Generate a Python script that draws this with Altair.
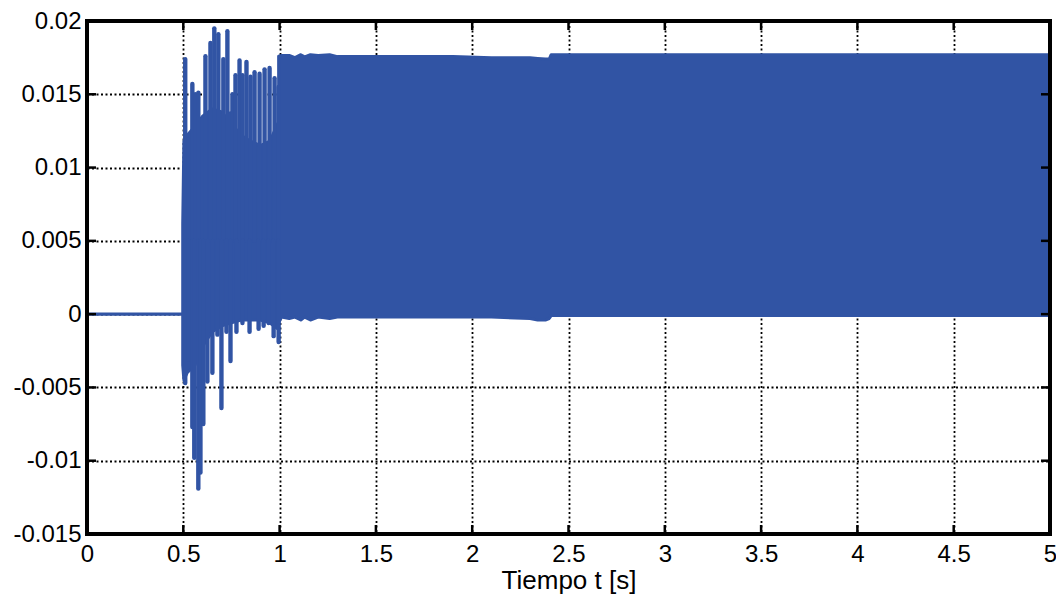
import altair as alt
import pandas as pd

BLUE = "#3154a4"
FONT = "Liberation Sans"

x_ticks = [0, 0.5, 1, 1.5, 2, 2.5, 3, 3.5, 4, 4.5, 5]
y_ticks = [-0.015, -0.01, -0.005, 0, 0.005, 0.01, 0.015, 0.02]

# before the event: flat at zero
rest_t = [0.0, 0.497]
rest_v = [0.0, 0.0]

# transient (0.5 s - 1 s): dense core envelope
core_t = [0.497, 0.503, 0.52, 0.56, 0.60, 0.65, 0.70, 0.75, 0.80, 0.85, 0.90, 0.95, 0.99]
core_hi = [0.0062, 0.0118, 0.0122, 0.0128, 0.0135, 0.0140, 0.0138, 0.0130, 0.0122, 0.0118, 0.0115, 0.0118, 0.0130]
core_lo = [-0.0035, -0.0045, -0.0040, -0.0035, -0.0022, -0.0012, -0.0008, -0.0006, -0.0004, -0.0004, -0.0004, -0.0006, -0.0010]

# transient peaks (upper)
spike_hi_t = [0.510, 0.526, 0.547, 0.562, 0.578, 0.599, 0.615, 0.641, 0.661, 0.682, 0.708, 0.729,
              0.745, 0.755, 0.771, 0.792, 0.807, 0.828, 0.849, 0.870, 0.896, 0.922, 0.948, 0.974, 0.995]
spike_hi_v = [0.0174, 0.0119, 0.0157, 0.0150, 0.0151, 0.0133, 0.0176, 0.0185, 0.0195, 0.0191, 0.0174, 0.0193,
              0.0137, 0.0150, 0.0163, 0.0173, 0.0163, 0.0172, 0.0162, 0.0165, 0.0164, 0.0167, 0.0168, 0.0161, 0.0155]

# transient troughs (lower)
spike_lo_t = [0.510, 0.526, 0.547, 0.557, 0.578, 0.589, 0.604, 0.625, 0.651, 0.677, 0.698,
              0.724, 0.745, 0.776, 0.807, 0.844, 0.891, 0.917, 0.943, 0.969, 0.995]
spike_lo_v = [-0.0047, -0.0031, -0.0077, -0.0098, -0.0119, -0.0108, -0.0075, -0.0046, -0.0040, -0.0014, -0.0064,
              -0.0012, -0.0032, -0.0012, -0.0006, -0.0012, -0.0010, -0.0008, -0.0006, -0.0015, -0.0019]

# steady oscillation band (t >= 1 s): envelope
steady_t = [0.995, 1.01, 1.05, 1.08, 1.11, 1.13, 1.16, 1.20, 1.26, 1.30, 1.35, 1.60, 1.90, 2.10, 2.30,
            2.34, 2.38, 2.40, 2.41, 3.00, 4.00, 5.00]
steady_hi = [0.0176, 0.01765, 0.01765, 0.0175, 0.0177, 0.01755, 0.0177, 0.01765, 0.0177, 0.01757, 0.01757,
             0.01757, 0.01757, 0.0175, 0.0175, 0.01745, 0.0174, 0.0174, 0.0177, 0.0177, 0.0177, 0.0177]
steady_lo = [-0.0006, -0.0002, -0.0003, -0.0002, -0.0004, -0.0002, -0.0004, -0.0002, -0.0003, -0.0002, -0.0002,
             -0.0002, -0.0002, -0.0002, -0.0003, -0.0004, -0.0004, -0.0003, -0.0001, -0.0001, -0.0001, -0.0001]

X_DOM = [0, 5]
Y_DOM = [-0.015, 0.02]

xs = alt.Scale(domain=X_DOM, nice=False, zero=False)
ys = alt.Scale(domain=Y_DOM, nice=False, zero=False)

x_axis = alt.Axis(values=x_ticks, labelExpr="'' + datum.value", title="Tiempo t [s]",
                  grid=True, domain=False, ticks=False, labelPadding=8, titlePadding=1,
                  labelFontSize=24, titleFontSize=26, labelFont=FONT, titleFont=FONT,
                  labelColor="black", titleColor="black", titleFontWeight="normal",
                  gridColor="black", gridDash=[2, 2.5], gridWidth=1.8, gridOpacity=1,
                  labelFlush=False, labelOverlap=False)
y_axis = alt.Axis(values=y_ticks, labelExpr="'' + datum.value", title=None,
                  grid=True, domain=False, ticks=False, labelPadding=6,
                  labelFontSize=24, labelFont=FONT, labelColor="black",
                  gridColor="black", gridDash=[2, 2.5], gridWidth=1.8, gridOpacity=1,
                  labelFlush=False, labelOverlap=False)

rest_df = pd.DataFrame({"t": rest_t, "v": rest_v})
core_df = pd.DataFrame({"t": core_t, "hi": core_hi, "lo": core_lo})
hi_df = pd.DataFrame({"t": spike_hi_t, "v": spike_hi_v})
lo_df = pd.DataFrame({"t": spike_lo_t, "v": spike_lo_v})
steady_df = pd.DataFrame({"t": steady_t, "hi": steady_hi, "lo": steady_lo})
xt_df = pd.DataFrame({"t": x_ticks})
yt_df = pd.DataFrame({"v": y_ticks})
one_df = pd.DataFrame({"k": [0]})


def X(field):
    return alt.X(field, scale=xs, axis=x_axis)


def Y(field):
    return alt.Y(field, scale=ys, axis=y_axis)


rest = alt.Chart(rest_df).mark_line(color=BLUE, strokeWidth=3.4).encode(x=X("t:Q"), y=Y("v:Q"))

core = alt.Chart(core_df).mark_area(color=BLUE, stroke=BLUE, strokeWidth=3, strokeJoin="round", opacity=1).encode(
    x=X("t:Q"), y=Y("hi:Q"), y2="lo:Q")

spikes_hi = alt.Chart(hi_df).mark_rule(color=BLUE, strokeWidth=4.4, strokeCap="round").encode(
    x=X("t:Q"), y=Y("v:Q"), y2=alt.datum(0.005))

spikes_lo = alt.Chart(lo_df).mark_rule(color=BLUE, strokeWidth=4.4, strokeCap="round").encode(
    x=X("t:Q"), y=Y("v:Q"), y2=alt.datum(0.005))

steady = alt.Chart(steady_df).mark_area(color=BLUE, stroke=BLUE, strokeWidth=3, strokeJoin="round", opacity=1).encode(
    x=X("t:Q"), y=Y("hi:Q"), y2="lo:Q")

frame = alt.Chart(one_df).mark_rect(filled=False, stroke="black", strokeWidth=4).encode(
    x=alt.datum(X_DOM[0], scale=xs, axis=x_axis), x2=alt.datum(X_DOM[1]),
    y=alt.datum(Y_DOM[0], scale=ys, axis=y_axis), y2=alt.datum(Y_DOM[1]),
)

tick_b = alt.Chart(xt_df).mark_tick(orient="vertical", size=9, thickness=2.5, color="black", opacity=1,
                                    yOffset=-4.5).encode(
    x=X("t:Q"), y=alt.datum(Y_DOM[0], scale=ys, axis=y_axis))
tick_t = alt.Chart(xt_df).mark_tick(orient="vertical", size=9, thickness=2.5, color="black", opacity=1,
                                    yOffset=4.5).encode(
    x=X("t:Q"), y=alt.datum(Y_DOM[1], scale=ys, axis=y_axis))
tick_l = alt.Chart(yt_df).mark_tick(orient="horizontal", size=9, thickness=2.5, color="black", opacity=1,
                                    xOffset=4.5).encode(
    y=Y("v:Q"), x=alt.datum(X_DOM[0], scale=xs, axis=x_axis))
tick_r = alt.Chart(yt_df).mark_tick(orient="horizontal", size=9, thickness=2.5, color="black", opacity=1,
                                    xOffset=-4.5).encode(
    y=Y("v:Q"), x=alt.datum(X_DOM[1], scale=xs, axis=x_axis))

chart = alt.layer(rest, core, steady, spikes_hi, spikes_lo, frame, tick_b, tick_t, tick_l, tick_r).properties(
    width=963, height=513,
    autosize=alt.AutoSizeParams(type="none"),
    padding={"left": 87, "top": 21, "right": 6, "bottom": 61},
    background="white",
).configure_view(stroke=None)

chart.save("out.html", embed_options={"renderer": "svg", "actions": False})
